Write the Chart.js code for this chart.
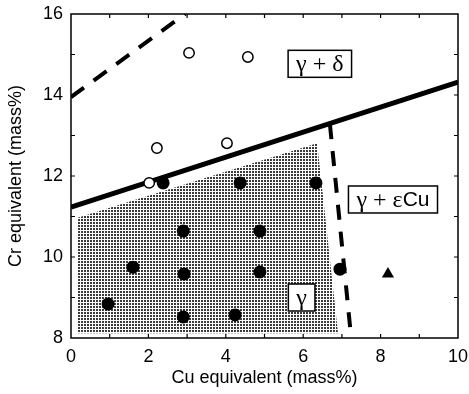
<!DOCTYPE html>
<html>
<head>
<meta charset="utf-8">
<script src="https://cdn.jsdelivr.net/npm/chart.js@4/dist/chart.umd.min.js"></script>
<style>
  html, body { margin: 0; padding: 0; background: #fff; }
  canvas { display: block; }
</style>
</head>
<body>
<canvas id="c" width="469" height="394"></canvas>
<script>
// Alloys that are single gamma after treatment (filled) and gamma + delta (open)
const gammaCu = [2.38, 4.37, 6.33, 2.90, 4.88, 1.60, 2.92, 4.88, 0.96, 2.90, 4.24, 6.95];
const gammaCr = [11.83, 11.83, 11.83, 10.64, 10.64, 9.75, 9.58, 9.63, 8.84, 8.52, 8.57, 9.70];
const deltaCu = [3.05, 4.57, 2.22, 4.03, 2.02];
const deltaCr = [15.04, 14.94, 12.69, 12.81, 11.83];
// Alloy with epsilon-Cu precipitation
const epsCu = [8.19];
const epsCr = [9.58];

// Phase boundaries
const deltaBoundCu = [0, 10];
const deltaBoundCr = [11.23, 14.32];
const upperBoundCu = [0, 2.95];
const upperBoundCr = [13.95, 16];
const epsBoundCu = [6.69, 7.24];
const epsBoundCr = [13.28, 8];

// Outline of the shaded single-gamma field (filled down to gammaFloor)
const gammaFieldCu = [0.15, 6.36, 6.90];
const gammaFieldCr = [10.96, 12.81, 8.12];
const gammaFloor = 8.12;

// Axis ranges and ticks
const cuTicks = [0, 2, 4, 6, 8, 10];
const crTicks = [8, 10, 12, 14, 16];

// Phase-field labels
const fieldLabels = [
  { parts: [['γ + δ', 'serif']], cu: 6.43, cr: 14.77 },
  { parts: [['γ + ε', 'serif'], ['Cu', 'sans']], cu: 8.32, cr: 11.42 },
  { parts: [['γ', 'serif']], cu: 5.96, cr: 9.0 }
];

const pts = (xs, ys) => xs.map((x, i) => ({ x, y: ys[i] }));

// Fine dot screen used for the gamma field
function dotPattern() {
  const t = document.createElement('canvas');
  t.width = 3; t.height = 3;
  const g = t.getContext('2d');
  g.fillStyle = '#ffffff';
  g.fillRect(0, 0, 3, 3);
  g.fillStyle = '#3a3a3a';
  g.fillRect(0, 0, 2, 2);
  return document.getElementById('c').getContext('2d').createPattern(t, 'repeat');
}

const SANS = '"Liberation Sans", Arial, sans-serif';
const SERIF = '"Liberation Serif", "Times New Roman", serif';

const framePlugin = {
  id: 'frame',
  afterDraw(chart) {
    const { ctx, chartArea: a, scales: { x, y } } = chart;
    ctx.save();
    ctx.strokeStyle = '#000';
    ctx.lineWidth = 1.5;
    ctx.strokeRect(a.left, a.top, a.right - a.left, a.bottom - a.top);
    ctx.lineWidth = 1.2;
    const len = 4;
    ctx.beginPath();
    for (let v = x.min + 1; v < x.max; v++) {
      const px = x.getPixelForValue(v);
      ctx.moveTo(px, a.bottom); ctx.lineTo(px, a.bottom - len);
      ctx.moveTo(px, a.top); ctx.lineTo(px, a.top + len);
    }
    for (let v = y.min + 1; v < y.max; v++) {
      const py = y.getPixelForValue(v);
      ctx.moveTo(a.left, py); ctx.lineTo(a.left + len, py);
      ctx.moveTo(a.right, py); ctx.lineTo(a.right - len, py);
    }
    ctx.stroke();
    ctx.restore();
  }
};

const labelPlugin = {
  id: 'fieldLabels',
  afterDatasetsDraw(chart) {
    const { ctx, scales: { x, y } } = chart;
    ctx.save();
    ctx.textBaseline = 'middle';
    ctx.textAlign = 'left';
    fieldLabels.forEach(l => {
      const fonts = l.parts.map(p => p[1] === 'serif' ? '24px ' + SERIF : '21px ' + SANS);
      let w = 0;
      const widths = l.parts.map((p, i) => { ctx.font = fonts[i]; const m = ctx.measureText(p[0]).width; w += m; return m; });
      const cx = x.getPixelForValue(l.cu);
      const cy = y.getPixelForValue(l.cr);
      const bw = w + 16, bh = 27;
      ctx.fillStyle = '#fff';
      ctx.fillRect(cx - bw / 2, cy - bh / 2, bw, bh);
      ctx.strokeStyle = '#000';
      ctx.lineWidth = 1.5;
      ctx.strokeRect(cx - bw / 2, cy - bh / 2, bw, bh);
      ctx.fillStyle = '#000';
      let tx = cx - w / 2;
      l.parts.forEach((p, i) => {
        ctx.font = fonts[i];
        ctx.fillText(p[0], tx, cy + 1);
        tx += widths[i];
      });
    });
    ctx.restore();
  }
};

// Keep the plot area fixed: ignore the label overflow padding of each axis
const noOverflow = s => { s.paddingLeft = 0; s.paddingRight = 0; s.paddingTop = 0; s.paddingBottom = 0; };

const tickFont = { family: SANS, size: 18 };
const titleFont = { family: SANS, size: 18 };

new Chart(document.getElementById('c'), {
  type: 'scatter',
  data: {
    datasets: [
      {
        label: 'gamma + delta',
        data: pts(deltaCu, deltaCr),
        pointStyle: 'circle', pointRadius: 5.2,
        backgroundColor: '#fff', borderColor: '#000', borderWidth: 1.5,
        order: 2
      },
      {
        label: 'gamma + eps-Cu',
        data: pts(epsCu, epsCr),
        pointStyle: 'triangle', pointRadius: 7,
        backgroundColor: '#000', borderColor: '#000', borderWidth: 0,
        order: 2
      },
      {
        label: 'eps-Cu boundary',
        data: pts(epsBoundCu, epsBoundCr),
        showLine: true, pointRadius: 0,
        borderColor: '#000', borderWidth: 4, borderDash: [15, 12],
        order: 4
      },
      {
        label: 'upper boundary',
        data: pts(upperBoundCu, upperBoundCr),
        showLine: true, pointRadius: 0,
        borderColor: '#000', borderWidth: 4, borderDash: [16, 12],
        order: 4
      },
      {
        label: 'gamma',
        data: pts(gammaCu, gammaCr),
        pointStyle: 'circle', pointRadius: 6.5,
        backgroundColor: '#000', borderColor: '#000', borderWidth: 0,
        order: 6
      },
      {
        label: 'delta boundary',
        data: pts(deltaBoundCu, deltaBoundCr),
        showLine: true, pointRadius: 0,
        borderColor: '#000', borderWidth: 5,
        order: 8
      },
      {
        label: 'gamma field',
        data: pts(gammaFieldCu, gammaFieldCr),
        showLine: true, pointRadius: 0,
        borderColor: 'rgba(0,0,0,0)', borderWidth: 0,
        backgroundColor: dotPattern(),
        fill: { value: gammaFloor },
        order: 10
      }
    ]
  },
  options: {
    responsive: false,
    animation: false,
    layout: { padding: { top: 14, right: 11, left: 0, bottom: 0 } },
    plugins: { legend: { display: false }, tooltip: { enabled: false } },
    scales: {
      x: {
        type: 'linear', min: 0, max: 10,
        afterFit: s => { s.height = 56; noOverflow(s); },
        afterBuildTicks: s => { s.ticks = cuTicks.map(v => ({ value: v })); },
        grid: { display: false, drawTicks: false },
        border: { display: false },
        ticks: { font: tickFont, color: '#000', padding: 8, maxRotation: 0, autoSkip: false },
        title: { display: true, text: 'Cu equivalent (mass%)', font: titleFont, color: '#000', padding: { top: 0, bottom: 5 } }
      },
      y: {
        type: 'linear', min: 8, max: 16,
        afterFit: s => { s.width = 71; noOverflow(s); },
        afterBuildTicks: s => { s.ticks = crTicks.map(v => ({ value: v })); },
        grid: { display: false, drawTicks: false },
        border: { display: false },
        ticks: { font: tickFont, color: '#000', padding: 8, autoSkip: false },
        title: { display: true, text: 'Cr equivalent (mass%)', font: titleFont, color: '#000', padding: { top: 5, bottom: 0 } }
      }
    }
  },
  plugins: [framePlugin, labelPlugin]
});
</script>
</body>
</html>
